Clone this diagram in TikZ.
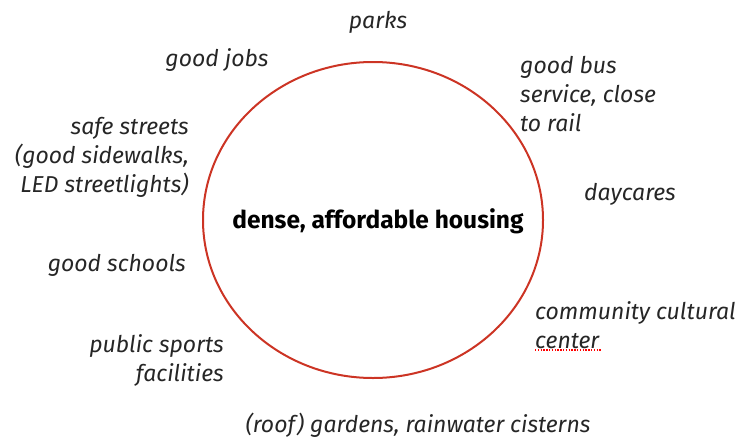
\documentclass[tikz,border=0pt]{standalone}
\usepackage{fontspec}
\setmainfont{Fira Sans}
\usetikzlibrary{shapes}
\definecolor{ringred}{RGB}{204,52,36}
\tikzstyle{ring}=[ellipse,draw=ringred,line width=2pt,minimum width=340pt,minimum height=316pt,inner sep=0pt]
\tikzstyle{housing}=[inner sep=0pt,font=\fontsize{24.5}{28}\selectfont\bfseries]
\tikzstyle{need}=[inner sep=0pt,text=black!85,font=\fontsize{23}{29}\selectfont\itshape]
\tikzstyle{spell}=[draw=red,dash pattern=on 1.4pt off 1.4pt,line width=1.4pt]

\begin{document}
\begin{tikzpicture}[x=1pt,y=-1pt]
    \useasboundingbox (0,0) rectangle (738,439);
    % the housing in the middle
    \node[ring] (ring) at (373,220) {};
    \node[housing] (housing) at (378,221) {dense, affordable housing};

    % needs round it, left aligned
    \foreach \pos/ \name/ \txt in {{(520,94)/bus/{good bus\\service, close\\to rail}},
        {(535,325)/cultural/{community cultural\\center}}}
        \node[need,anchor=west,align=left] (\name) at \pos {\txt};

    % needs round it, right aligned
    \foreach \pos/ \name/ \txt in {{(189,157)/streets/{safe streets\\(good sidewalks,\\LED streetlights)}},
        {(186,265)/schools/{good schools}},
        {(224,360)/sports/{public sports\\facilities}}}
        \node[need,anchor=east,align=right] (\name) at \pos {\txt};

    % needs round it, centred
    \foreach \pos/ \name/ \txt in {{(378,22)/parks/{parks}},{(217,60)/jobs/{good jobs}},
        {(630,194)/daycares/{daycares}},{(418,425)/gardens/{(roof) gardens, rainwater cisterns}}}
        \node[need] (\name) at \pos {\txt};

    % squiggle under center
    \draw[spell] (cultural.south west) ++(0,1) -- ++(66,0);
\end{tikzpicture}
\end{document}
